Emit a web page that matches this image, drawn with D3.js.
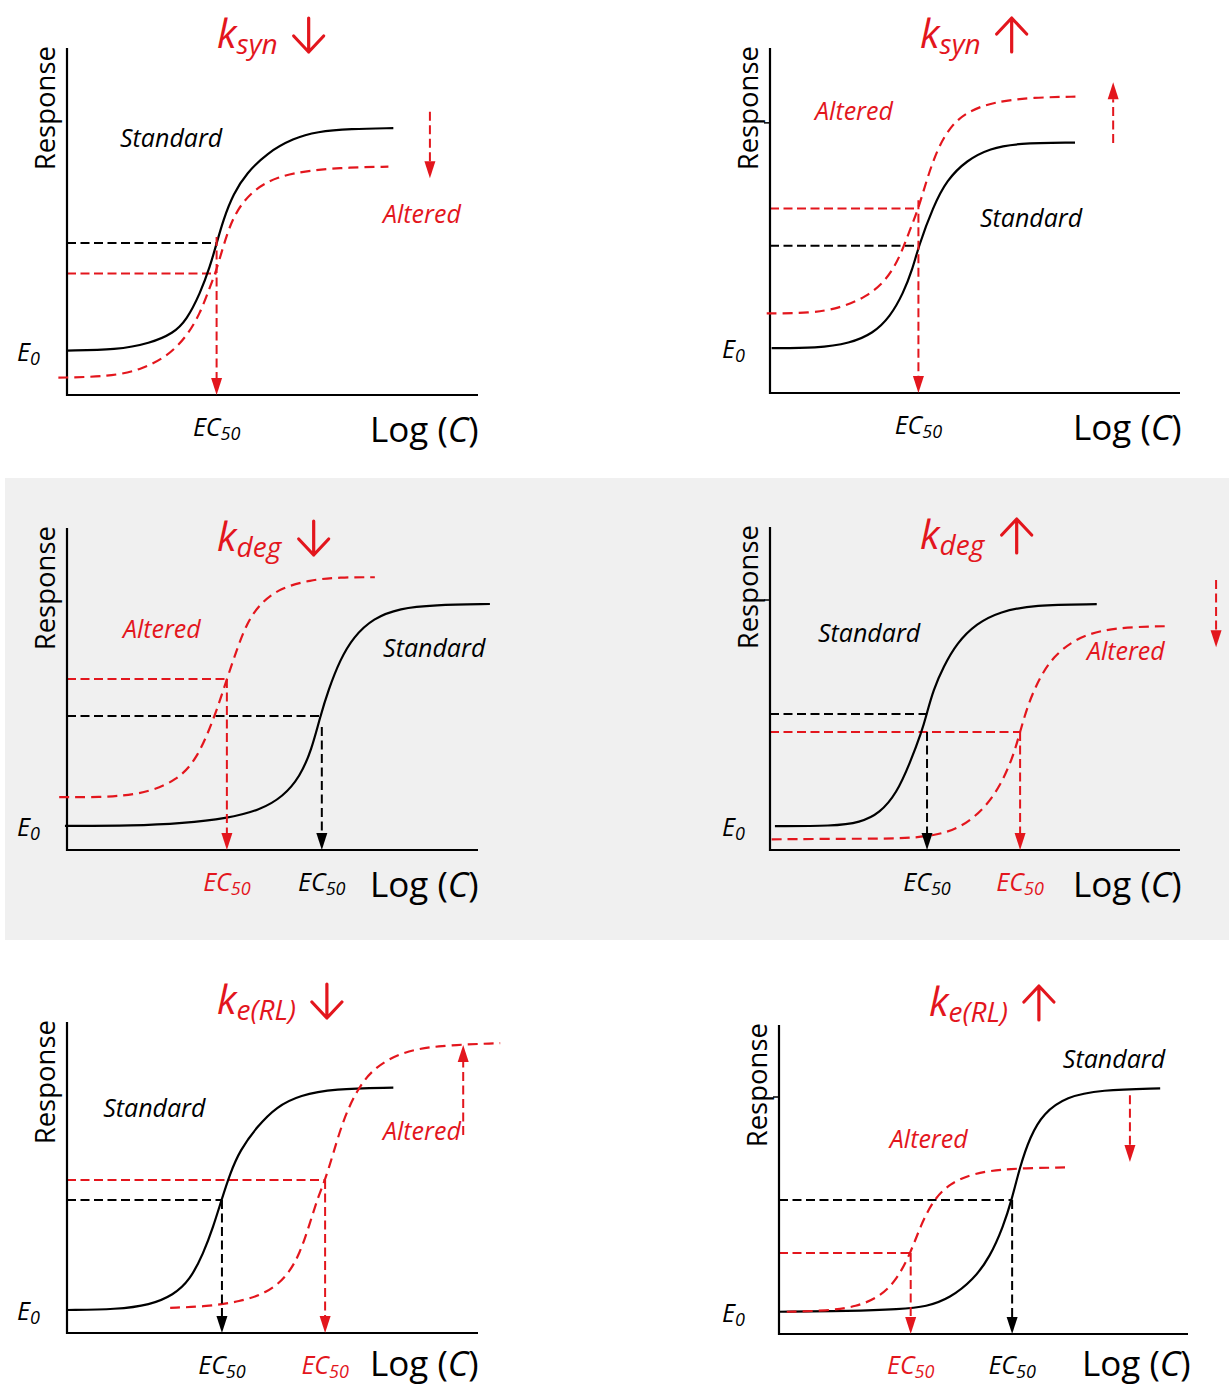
<!DOCTYPE html>
<html>
<head>
<meta charset="utf-8">
<script src="https://cdn.jsdelivr.net/npm/d3@7"></script>
<style>
  html, body { margin: 0; padding: 0; background: #fff; }
  svg { display: block; }
</style>
</head>
<body>
<div id="chart"></div>
<script>
// ---- data (x = log C units 0..10, y = response units 0..100 of each axis) ----
const panelKeys = ["syn", "syn", "deg", "deg", "e(RL)", "e(RL)"];
const panelTrend = ["down", "up", "down", "up", "down", "up"];

const standardPoints = [
  [[0, 12.8], [1.21, 13.0], [2.02, 14.9], [2.59, 17.8], [2.91, 21.6], [3.24, 29.3], [3.48, 37.0], [3.64, 43.7], [3.80, 50.4], [4.05, 58.1], [4.37, 63.9], [4.86, 69.7], [5.51, 74.0], [6.08, 75.9], [6.89, 76.7], [7.94, 76.9]],
  [[0.04, 13.0], [1.14, 13.0], [1.95, 14.4], [2.52, 17.3], [2.93, 22.1], [3.25, 28.9], [3.48, 36.0], [3.62, 42.4], [3.98, 54.0], [4.31, 61.7], [4.80, 67.5], [5.37, 70.9], [6.02, 72.4], [7.44, 72.6]],
  [[-0.05, 7.5], [1.61, 7.5], [2.83, 8.3], [3.89, 9.8], [4.70, 12.4], [5.26, 16.6], [5.67, 22.8], [5.95, 31.1], [6.16, 41.4], [6.36, 49.7], [6.64, 59.0], [6.97, 66.2], [7.45, 72.0], [8.10, 75.1], [8.91, 76.1], [10.29, 76.4]],
  [[0.12, 7.4], [1.54, 7.4], [2.20, 8.5], [2.68, 11.4], [3.09, 17.6], [3.41, 26.8], [3.70, 36.6], [3.82, 42.0], [3.98, 49.5], [4.23, 56.7], [4.55, 64.0], [5.04, 70.2], [5.61, 73.8], [6.42, 75.9], [7.97, 76.1]],
  [[0, 7.4], [1.21, 7.6], [2.02, 9.0], [2.59, 12.2], [2.99, 17.0], [3.32, 25.6], [3.56, 34.2], [3.76, 42.8], [3.97, 51.4], [4.21, 58.8], [4.62, 66.3], [5.10, 72.8], [5.67, 76.5], [6.48, 78.5], [7.94, 78.9]],
  [[0, 7.2], [1.74, 7.4], [2.96, 8.0], [3.61, 8.8], [4.18, 11.6], [4.75, 17.5], [5.16, 25.0], [5.48, 34.7], [5.69, 43.4], [5.89, 54.1], [6.14, 63.9], [6.46, 71.4], [7.03, 76.8], [7.85, 79.0], [9.32, 79.5]]
];

const alteredPoints = [
  [[-0.21, 5.0], [1.05, 5.3], [1.78, 7.2], [2.43, 11.0], [2.91, 16.8], [3.24, 23.5], [3.48, 31.2], [3.64, 36.0], [3.89, 46.6], [4.13, 53.3], [4.53, 59.1], [5.10, 62.9], [5.91, 64.8], [6.89, 65.6], [7.82, 65.8]],
  [[-0.08, 23.1], [0.98, 23.1], [1.71, 24.6], [2.36, 27.9], [2.85, 32.8], [3.17, 39.5], [3.41, 47.2], [3.62, 53.5], [3.82, 61.7], [4.07, 70.4], [4.39, 77.2], [4.80, 81.5], [5.45, 84.4], [6.42, 85.7], [7.52, 85.9]],
  [[-0.19, 16.4], [1.21, 16.4], [2.02, 18.1], [2.67, 21.7], [3.16, 28.0], [3.60, 41.6], [3.89, 53.1], [4.13, 62.1], [4.37, 70.4], [4.70, 76.6], [5.18, 81.3], [5.91, 83.9], [6.64, 84.7], [7.49, 84.7]],
  [[0.04, 3.3], [1.95, 3.5], [3.17, 3.5], [3.98, 4.3], [4.63, 6.7], [5.20, 12.4], [5.61, 19.6], [5.93, 28.9], [6.10, 36.6], [6.30, 45.4], [6.59, 53.7], [6.91, 59.8], [7.40, 65.0], [8.05, 68.1], [8.86, 69.1], [9.76, 69.3]],
  [[2.51, 8.1], [3.40, 8.5], [4.21, 10.1], [4.86, 12.8], [5.35, 18.1], [5.67, 25.6], [5.91, 35.3], [6.11, 43.8], [6.28, 49.2], [6.48, 57.8], [6.72, 68.5], [7.05, 78.1], [7.45, 85.1], [8.10, 90.1], [8.91, 92.4], [10.54, 93.2]],
  [[0.19, 7.2], [1.17, 7.5], [1.90, 8.8], [2.47, 12.1], [2.88, 17.5], [3.22, 26.3], [3.45, 34.7], [3.77, 43.4], [4.18, 48.8], [4.75, 52.0], [5.57, 53.6], [7.03, 53.9]]
];

const standardEC50 = [3.64, 3.62, 6.20, 3.83, 3.77, 5.70];
const standardLevel = [43.8, 42.7, 41.6, 42.1, 42.8, 43.4];
const alteredEC50 = [3.64, 3.62, 3.89, 6.10, 6.28, 3.22];
const alteredLevel = [35.0, 53.5, 53.1, 36.5, 49.2, 26.2];

// vertical arrows down to the x axis: [series, x, from]
const dropArrows = [
  [["altered", 3.64, 45.5]],
  [["altered", 3.62, 55.9]],
  [["altered", 3.89, 53.1], ["standard", 6.20, 38.2]],
  [["standard", 3.83, 36.5], ["altered", 6.10, 36.5]],
  [["standard", 3.77, 42.8], ["altered", 6.28, 49.2]],
  [["altered", 3.22, 26.2], ["standard", 5.70, 43.4]]
];

// EC50 tick labels: [series, x]
const ec50Labels = [
  [["standard", 3.64]],
  [["standard", 3.62]],
  [["altered", 3.89], ["standard", 6.20]],
  [["standard", 3.83], ["altered", 6.10]],
  [["standard", 3.77], ["altered", 6.28]],
  [["altered", 3.22], ["standard", 5.70]]
];

// dashed arrows showing the shift of the plateau: [x, from, to]
const shiftArrows = [[8.83, 81.6, 62.5], [8.37, 72.5, 90.1], null, [10.88, 83.6, 62.8], [9.64, 63.7, 92.6], [8.58, 77.3, 55.7]];

// curve labels: [x, y]
const standardLabelAt = [[1.29, 71.5], [5.12, 48.1], [7.69, 59.9], [1.17, 64.4], [0.88, 69.5], [6.94, 86.1]];
const alteredLabelAt = [[7.69, 49.6], [1.10, 79.1], [1.36, 65.8], [7.73, 58.8], [7.69, 62.1], [2.71, 60.2]];

const axisTicks = [null, 78.3, null, 77.4, null, 76.7];

// ---- layout ----
const width = 1229, height = 1388;
const red = "#e3161d";
const frames = [
  { x0: 67, x1: 478, yB: 395, yT: 48, left: 17, titleY: 48 },
  { x0: 770, x1: 1180, yB: 393, yT: 48, left: 722, titleY: 48 },
  { x0: 67, x1: 478, yB: 850, yT: 528, left: 17, titleY: 551 },
  { x0: 770, x1: 1180, yB: 850, yT: 527, left: 722, titleY: 549 },
  { x0: 67, x1: 478, yB: 1333, yT: 1022, left: 17, titleY: 1014 },
  { x0: 779, x1: 1188, yB: 1334, yT: 1025, left: 722, titleY: 1016 }
];
const seriesColor = { standard: "#000", altered: red };
const font = "'Open Sans', Lato, sans-serif";

const svg = d3.select("#chart").append("svg")
  .attr("width", width)
  .attr("height", height)
  .attr("viewBox", [0, 0, width, height]);

svg.append("rect")
  .attr("x", 5).attr("y", 478)
  .attr("width", width - 5).attr("height", 462)
  .attr("fill", "#f0f0f0");

function arrow(g, x1, y1, x2, y2, color, dash) {
  // dashed shaft + filled triangular head at (x2, y2)
  const dir = Math.sign(y2 - y1);
  const headLen = 17, headHalf = 5.5;
  g.append("line")
    .attr("x1", x1).attr("y1", y1)
    .attr("x2", x2).attr("y2", y2 - dir * headLen)
    .attr("stroke", color)
    .attr("stroke-width", 2)
    .attr("stroke-dasharray", dash);
  g.append("path")
    .attr("d", `M${x2},${y2}L${x2 - headHalf},${y2 - dir * headLen}L${x2 + headHalf},${y2 - dir * headLen}Z`)
    .attr("fill", color);
}

frames.forEach((fr, i) => {
  const g = svg.append("g");
  const x = d3.scaleLinear().domain([0, 10]).range([fr.x0, fr.x1]);
  const y = d3.scaleLinear().domain([0, 100]).range([fr.yB, fr.yT]);

  const line = d3.line()
    .x(d => x(d[0]))
    .y(d => y(d[1]))
    .curve(d3.curveBasis);

  // guide lines to the y axis
  g.append("line")
    .attr("x1", x(0)).attr("x2", x(standardEC50[i]))
    .attr("y1", y(standardLevel[i])).attr("y2", y(standardLevel[i]))
    .attr("stroke", "#000").attr("stroke-width", 2).attr("stroke-dasharray", "9,4.5");
  g.append("line")
    .attr("x1", x(0)).attr("x2", x(alteredEC50[i]))
    .attr("y1", y(alteredLevel[i])).attr("y2", y(alteredLevel[i]))
    .attr("stroke", red).attr("stroke-width", 2).attr("stroke-dasharray", "9,4.5");

  // axes
  g.append("path")
    .attr("d", `M${x(0)},${y(100)}V${y(0)}H${x(10)}`)
    .attr("fill", "none").attr("stroke", "#000").attr("stroke-width", 2.2);
  if (axisTicks[i] != null) {
    g.append("line")
      .attr("x1", x(0) - 6).attr("x2", x(0))
      .attr("y1", y(axisTicks[i])).attr("y2", y(axisTicks[i]))
      .attr("stroke", "#000").attr("stroke-width", 1.5);
  }

  // curves
  g.append("path")
    .attr("d", line(standardPoints[i]))
    .attr("fill", "none").attr("stroke", "#000").attr("stroke-width", 2.2);
  g.append("path")
    .attr("d", line(alteredPoints[i]))
    .attr("fill", "none").attr("stroke", red).attr("stroke-width", 2.2)
    .attr("stroke-dasharray", "10,6");

  // arrows down to EC50
  dropArrows[i].forEach(([s, ax, from]) => {
    arrow(g, x(ax), y(from), x(ax), y(0), seriesColor[s], "9,4.5");
  });

  // plateau shift arrow
  if (shiftArrows[i]) {
    const [sx, from, to] = shiftArrows[i];
    arrow(g, x(sx), y(from), x(sx), y(to), red, "9,4.5");
  }

  // curve labels
  g.append("text")
    .attr("x", x(standardLabelAt[i][0])).attr("y", y(standardLabelAt[i][1]))
    .attr("font-family", font).attr("font-style", "italic").attr("font-size", 25)
    .attr("fill", "#000").text("Standard");
  g.append("text")
    .attr("x", x(alteredLabelAt[i][0])).attr("y", y(alteredLabelAt[i][1]))
    .attr("font-family", font).attr("font-style", "italic").attr("font-size", 25)
    .attr("fill", red).text("Altered");

  // EC50 labels
  ec50Labels[i].forEach(([s, ex]) => {
    const t = g.append("text")
      .attr("x", x(ex)).attr("y", Math.min(fr.yB + 41, height - 14))
      .attr("text-anchor", "middle")
      .attr("font-family", font).attr("font-style", "italic")
      .attr("fill", seriesColor[s]);
    t.append("tspan").attr("font-size", 25).text("EC");
    t.append("tspan").attr("font-size", 18).attr("dy", 4).text("50");
  });

  // E0
  const e0 = g.append("text")
    .attr("x", fr.left).attr("y", y(standardPoints[i][0][1]) + 10)
    .attr("font-family", font).attr("font-style", "italic").attr("fill", "#000");
  e0.append("tspan").attr("font-size", 25).text("E");
  e0.append("tspan").attr("font-size", 18).attr("dy", 4).text("0");

  // axis titles
  g.append("text")
    .attr("transform", `translate(${x(0) - 12},${y(100) - 2}) rotate(-90)`)
    .attr("text-anchor", "end")
    .attr("font-family", font).attr("font-size", 27.5).attr("fill", "#000")
    .text("Response");
  const lc = g.append("text")
    .attr("x", x(0) + 303).attr("y", Math.min(fr.yB + 47, height - 12))
    .attr("font-family", font).attr("font-size", 35).attr("fill", "#000");
  lc.append("tspan").text("Log (");
  lc.append("tspan").attr("font-style", "italic").text("C");
  lc.append("tspan").text(")");

  // panel title
  const title = g.append("text")
    .attr("x", x(0) + 150).attr("y", fr.titleY)
    .attr("font-family", font).attr("font-style", "italic").attr("fill", red);
  title.append("tspan").attr("font-size", 40).text("k");
  title.append("tspan").attr("font-size", 28).attr("dy", 6).text(panelKeys[i]);
  const bb = title.node().getBBox();
  const ax = bb.x + bb.width + 31;
  const top = fr.titleY - 30, bottom = fr.titleY + 4;
  const tip = panelTrend[i] === "down" ? bottom : top;
  const back = panelTrend[i] === "down" ? -16 : 16;
  g.append("path")
    .attr("d", `M${ax},${top}V${bottom}M${ax - 15},${tip + back}L${ax},${tip}L${ax + 15},${tip + back}`)
    .attr("fill", "none").attr("stroke", red).attr("stroke-width", 3.2)
    .attr("stroke-linecap", "round").attr("stroke-linejoin", "round");
});
</script>
</body>
</html>
